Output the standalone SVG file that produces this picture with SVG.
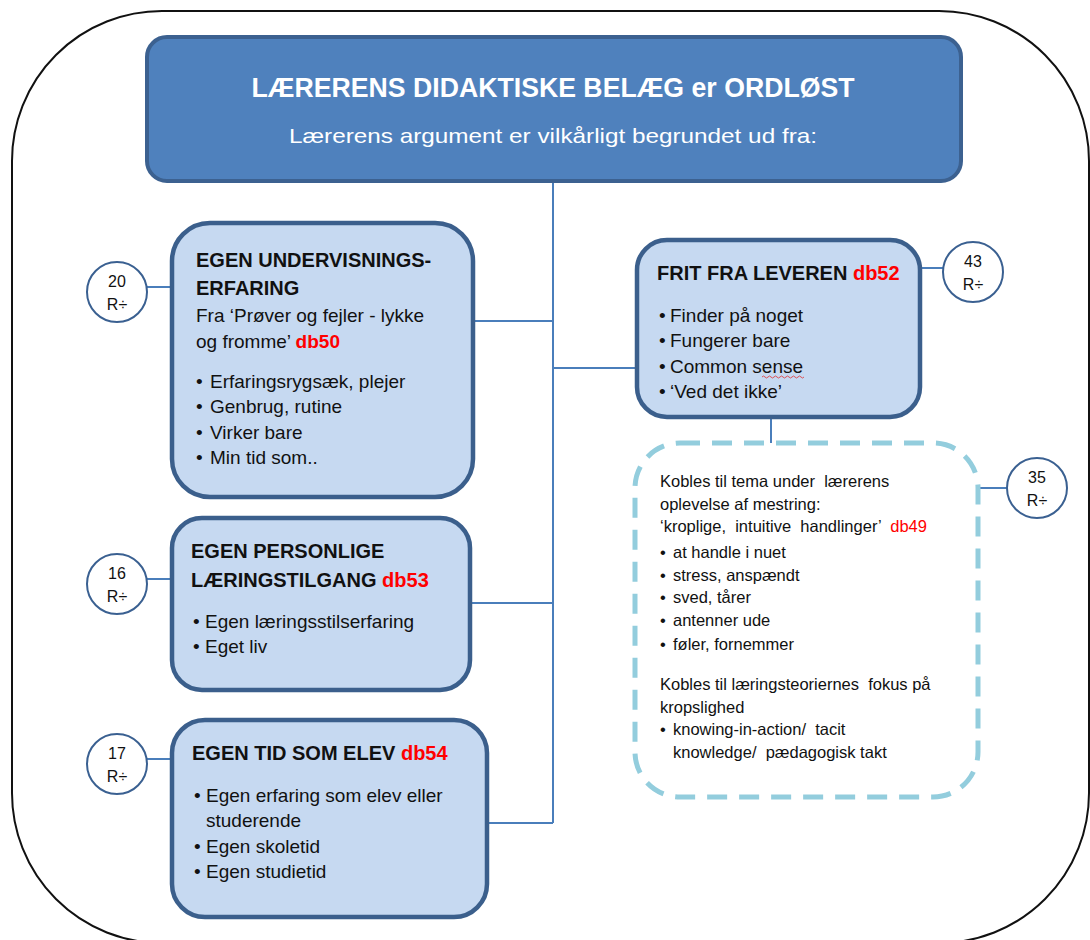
<svg xmlns="http://www.w3.org/2000/svg" width="1090" height="940" viewBox="0 0 1090 940">
  <defs>
    <style>
      .frame { fill: none; stroke: #111; stroke-width: 2; }
      .head { fill: #4F81BD; stroke: #3C6190; stroke-width: 4; }
      .box { fill: #C6D9F1; stroke: #3B5F8C; stroke-width: 4.5; }
      .dash { fill: none; stroke: #93CDDD; stroke-width: 5; stroke-dasharray: 20 12; }
      .circ { fill: #fff; stroke: #3A6091; stroke-width: 2; }
      .conn { fill: none; stroke: #4A7EBB; stroke-width: 2; }
      text { font-family: "Liberation Sans", Arial, sans-serif; fill: #111; }
      .ht { font-weight: bold; fill: #fff; font-size: 27px; }
      .hs { fill: #fff; font-size: 21px; }
      .bt { font-weight: bold; font-size: 20px; }
      .tx { font-size: 19px; }
      .sm { font-size: 16.5px; white-space: pre; }
      .num { font-size: 16px; text-anchor: middle; }
      .red { fill: #FF0000; }
    </style>
  </defs>

  <!-- outer frame -->
  <rect class="frame" x="12" y="11" width="1077" height="932" rx="150" ry="150"/>

  <!-- connectors -->
  <g id="connectors">
    <path class="conn" d="M553 181 V823"/>
    <path class="conn" d="M473 321 H553"/>
    <path class="conn" d="M553 368 H637"/>
    <path class="conn" d="M470 603 H553"/>
    <path class="conn" d="M487 823 H553"/>
    <path class="conn" d="M771 417 V443"/>
    <path class="conn" d="M147 287 H172"/>
    <path class="conn" d="M147 579 H172"/>
    <path class="conn" d="M147 759 H172"/>
    <path class="conn" d="M920 268 H943"/>
    <path class="conn" d="M978 488 H1007"/>
  </g>

  <!-- header -->
  <g id="header">
    <rect class="head" x="147" y="37" width="814" height="144" rx="20"/>
    <text class="ht" x="553" y="97" text-anchor="middle" textLength="603" lengthAdjust="spacingAndGlyphs">LÆRERENS DIDAKTISKE BELÆG er ORDLØST</text>
    <text class="hs" x="553" y="143" text-anchor="middle" textLength="528" lengthAdjust="spacingAndGlyphs">Lærerens argument er vilkårligt begrundet ud fra:</text>
  </g>

  <!-- own teaching experience -->
  <g id="node-undervisning">
    <rect class="box" x="172" y="223" width="301" height="274" rx="38"/>
    <text class="bt" x="196" y="267">EGEN UNDERVISNINGS-</text>
    <text class="bt" x="196" y="295">ERFARING</text>
    <text class="tx" x="196" y="322">Fra ‘Prøver og fejler - lykke</text>
    <text class="tx" x="196" y="348">og fromme’ <tspan class="red" font-weight="bold">db50</tspan></text>
    <text class="tx" x="196" y="388">• <tspan x="210">Erfaringsrygsæk, plejer</tspan></text>
    <text class="tx" x="196" y="413">• <tspan x="210">Genbrug, rutine</tspan></text>
    <text class="tx" x="196" y="439">• <tspan x="210">Virker bare</tspan></text>
    <text class="tx" x="196" y="464">• <tspan x="210">Min tid som..</tspan></text>
  </g>

  <!-- own personal learning approach -->
  <g id="node-personlige">
    <rect class="box" x="172" y="518" width="298" height="172" rx="30"/>
    <text class="bt" x="191" y="558">EGEN PERSONLIGE</text>
    <text class="bt" x="191" y="587">LÆRINGSTILGANG <tspan class="red">db53</tspan></text>
    <text class="tx" x="193" y="628">• <tspan x="205">Egen læringsstilserfaring</tspan></text>
    <text class="tx" x="193" y="653">• <tspan x="205">Eget liv</tspan></text>
  </g>

  <!-- own time as a pupil -->
  <g id="node-elev">
    <rect class="box" x="172" y="720" width="315" height="197" rx="33"/>
    <text class="bt" x="192" y="760">EGEN TID SOM ELEV <tspan class="red">db54</tspan></text>
    <text class="tx" x="194" y="802">• <tspan x="206">Egen erfaring som elev eller</tspan></text>
    <text class="tx" x="206" y="827">studerende</text>
    <text class="tx" x="194" y="853">• <tspan x="206">Egen skoletid</tspan></text>
    <text class="tx" x="194" y="878">• <tspan x="206">Egen studietid</tspan></text>
  </g>

  <!-- free from the liver -->
  <g id="node-frit">
    <rect class="box" x="637" y="240" width="283" height="177" rx="30"/>
    <text class="bt" x="657" y="280">FRIT FRA LEVEREN <tspan class="red">db52</tspan></text>
    <text class="tx" x="659" y="322">• <tspan x="670">Finder på noget</tspan></text>
    <text class="tx" x="659" y="347">• <tspan x="670">Fungerer bare</tspan></text>
    <text class="tx" x="659" y="373">• <tspan x="670">Common sense</tspan></text>
    <path d="M762 377 q1.5 -2 3 0 t3 0 t3 0 t3 0 t3 0 t3 0 t3 0 t3 0 t3 0 t3 0 t3 0 t3 0 t3 0 t3 0" fill="none" stroke="#E03030" stroke-width="0.8"/>
    <text class="tx" x="659" y="398">• <tspan x="670">‘Ved det ikke’</tspan></text>
  </g>

  <!-- embodied actions -->
  <g id="node-kropslig">
    <rect class="dash" x="635" y="443" width="343" height="354" rx="45"/>
    <text class="sm" x="660" y="487">Kobles til tema under  lærerens</text>
    <text class="sm" x="660" y="510">oplevelse af mestring:</text>
    <text class="sm" x="660" y="532">‘kroplige,  intuitive  handlinger’  <tspan class="red">db49</tspan></text>
    <text class="sm" x="660" y="558">• <tspan x="673">at handle i nuet</tspan></text>
    <text class="sm" x="660" y="581">• <tspan x="673">stress, anspændt</tspan></text>
    <text class="sm" x="660" y="603">• <tspan x="673">sved, tårer</tspan></text>
    <text class="sm" x="660" y="626">• <tspan x="673">antenner ude</tspan></text>
    <text class="sm" x="660" y="650">• <tspan x="673">føler, fornemmer</tspan></text>
    <text class="sm" x="660" y="690">Kobles til læringsteoriernes  fokus på</text>
    <text class="sm" x="660" y="713">kropslighed</text>
    <text class="sm" x="660" y="735">• <tspan x="673">knowing-in-action/  tacit</tspan></text>
    <text class="sm" x="673" y="758">knowledge/  pædagogisk takt</text>
  </g>

  <!-- count badges -->
  <g id="badge-20">
    <circle class="circ" cx="117" cy="292" r="30"/>
    <text class="num" x="117" y="287">20</text>
    <text class="num" x="117" y="310">R÷</text>
  </g>
  <g id="badge-16">
    <circle class="circ" cx="117" cy="584" r="30"/>
    <text class="num" x="117" y="579">16</text>
    <text class="num" x="117" y="602">R÷</text>
  </g>
  <g id="badge-17">
    <circle class="circ" cx="117" cy="764" r="30"/>
    <text class="num" x="117" y="759">17</text>
    <text class="num" x="117" y="782">R÷</text>
  </g>
  <g id="badge-43">
    <circle class="circ" cx="973" cy="272" r="30"/>
    <text class="num" x="973" y="267">43</text>
    <text class="num" x="973" y="290">R÷</text>
  </g>
  <g id="badge-35">
    <circle class="circ" cx="1037" cy="488" r="30"/>
    <text class="num" x="1037" y="483">35</text>
    <text class="num" x="1037" y="506">R÷</text>
  </g>
</svg>
